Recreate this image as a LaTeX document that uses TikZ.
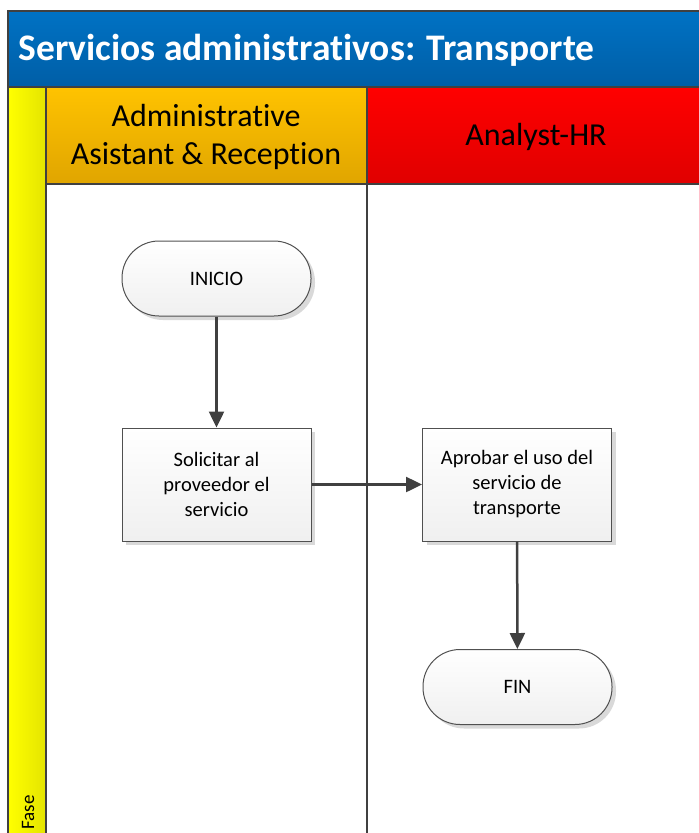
\documentclass[tikz,border=0pt]{standalone}
\usepackage{fontspec}
\setmainfont{Carlito}[Ligatures={NoCommon}]
\usetikzlibrary{shadows,arrows.meta}
\definecolor{titleTop}{HTML}{0072C4}
\definecolor{titleBot}{HTML}{005EA6}
\definecolor{orangeTop}{HTML}{FFC300}
\definecolor{orangeBot}{HTML}{E0A500}
\definecolor{redTop}{HTML}{FF0000}
\definecolor{redBot}{HTML}{E00000}
\definecolor{yelL}{HTML}{FFFF00}
\definecolor{yelR}{HTML}{E4E400}
\definecolor{frameline}{HTML}{404040}
\definecolor{nodeline}{HTML}{505050}
\tikzset{
  laneline/.style={draw=frameline, line width=2pt},
  flowbox/.style={draw=nodeline, line width=1pt, top color=white, bottom color=black!6,
    minimum width=189pt, minimum height=113pt, align=center,
    font=\fontsize{20.5}{25}\selectfont,
    drop shadow={shadow xshift=4pt, shadow yshift=-4pt, fill=black!15, opacity=1}},
  terminal/.style={flowbox, minimum height=75pt, rounded corners=37pt},
  flow/.style={draw=frameline, line width=2.5pt, -{Triangle[length=16pt,width=15pt]}},
}
\begin{document}
\begin{tikzpicture}[x=1pt,y=-1pt]
\useasboundingbox (0,0) rectangle (699,833);
% title bar
\shade[top color=titleTop, bottom color=titleBot] (8,11) rectangle (699,87);
\node[anchor=west, text=white, font=\fontsize{37.5}{44}\selectfont\bfseries] (title) at (15,50) {Servicios administrativos: Transporte};
% phase column
\shade[left color=yelL, right color=yelR] (8,87) rectangle (46,833);
\node[rotate=90, anchor=west, font=\fontsize{19}{22}\selectfont] (fase) at (28,833) {Fase};
% lane headers
\shade[top color=orangeTop, bottom color=orangeBot] (46,87) rectangle (367,184);
\shade[top color=redTop, bottom color=redBot] (367,87) rectangle (699,184);
\node[align=center, font=\fontsize{32}{38}\selectfont] (laneA) at (206,137) {Administrative\\Asistant \& Reception};
\node[font=\fontsize{32}{38}\selectfont] (laneB) at (536,137) {Analyst-HR};
% frame and lane borders
\draw[laneline] (8,833) -- (8,11) -- (699,11);
\draw[laneline] (8,87) -- (699,87);
\draw[laneline] (46,184) -- (699,184);
\draw[laneline] (46,87) -- (46,833);
\draw[laneline] (367,87) -- (367,833);
% flow nodes
\node[terminal] (inicio) at (216.5,278.5) {INICIO};
\node[flowbox] (solicitar) at (216.5,484.5) {Solicitar al\\proveedor el\\servicio};
\node[flowbox] (aprobar) at (517,484.5) {Aprobar el uso del\\servicio de\\transporte};
\node[terminal] (fin) at (517.5,687) {FIN};
% connectors
\draw[flow] (inicio) -- (solicitar);
\draw[flow] (solicitar) -- (aprobar);
\draw[flow] (aprobar) -- (fin);
\end{tikzpicture}
\end{document}
